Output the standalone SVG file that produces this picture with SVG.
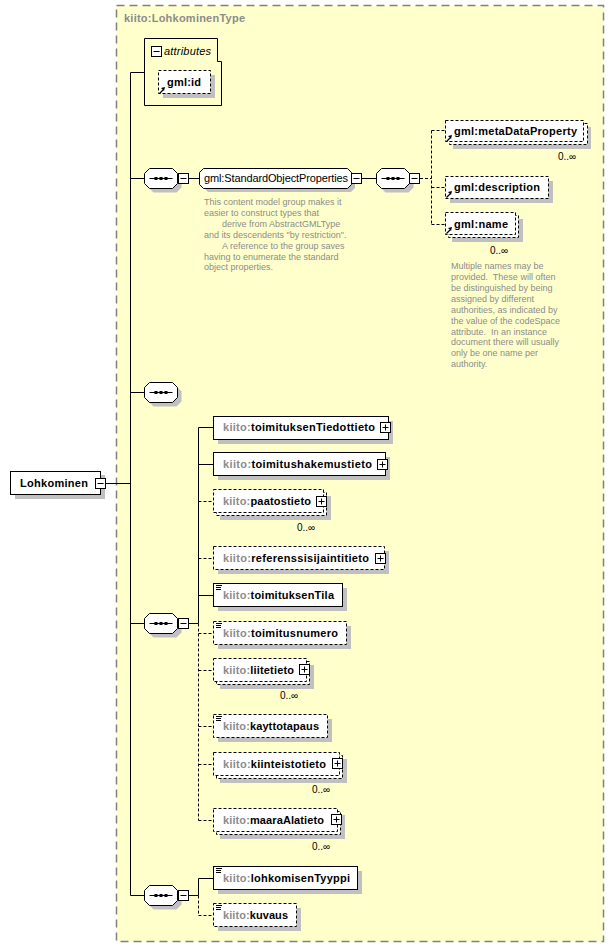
<svg xmlns="http://www.w3.org/2000/svg" xmlns:xlink="http://www.w3.org/1999/xlink" width="615" height="948" viewBox="0 0 615 948">
<style>
.bx{fill:#fff;stroke:#000;stroke-width:1}
.op{fill:#fff;stroke:#000;stroke-width:1;stroke-dasharray:3,2}
.sh{fill:#c0c0c0}
.ln{stroke:#000;stroke-width:1;fill:none}
.dl{stroke:#000;stroke-width:1;fill:none;stroke-dasharray:3,2}
.lb{font-family:"Liberation Sans",Arial,sans-serif;font-size:11px;font-weight:bold;fill:#000}
.ns{fill:#8c8c8c}
.rg{font-family:"Liberation Sans",Arial,sans-serif;font-size:11px;fill:#000}
.nt{font-family:"Liberation Sans",Arial,sans-serif;font-size:9px;fill:#8c8c8c;white-space:pre}
.oc{font-family:"Liberation Sans",Arial,sans-serif;font-size:10px;fill:#000}
</style>
<defs>
<g id="minus"><rect x="0.5" y="0.5" width="10" height="10" fill="#fff" stroke="#000"/><path d="M2.5,5.5h6" stroke="#000"/></g>
<g id="plus"><rect x="0.5" y="0.5" width="10" height="10" fill="#fff" stroke="#000"/><path d="M2.5,5.5h6M5.5,2.5v6" stroke="#000"/></g>
<g id="seq">
<polygon points="9,4 32,4 37,9 37,19 32,24 9,24 4,19 4,9" fill="#c0c0c0"/>
<polygon points="5,0 28,0 33,5 33,15 28,20 5,20 0,15 0,5" fill="#fff" stroke="#000"/>
<path d="M5,10H28" stroke="#000"/>
<rect x="10" y="8.5" width="3" height="3" fill="#000"/><rect x="15" y="8.5" width="3" height="3" fill="#000"/><rect x="20" y="8.5" width="3" height="3" fill="#000"/>
</g>
<g id="smp"><path d="M0,0.5h6M0,2.5h5M0,4.5h5" stroke="#000" stroke-width="1"/></g>
<g id="ref"><path d="M0.5,6.5L4,3" stroke="#000" stroke-width="1.2"/><polygon points="2,1 6,0 5,4" fill="#000"/></g>
</defs>

<g id="type">
<rect x="116.5" y="5.5" width="487" height="936" fill="#ffffcc" stroke="#808080" stroke-width="1.5" stroke-dasharray="8,5"/>
<text x="124" y="22" class="lb ns" textLength="121">kiito:LohkominenType</text>
</g>

<g id="connectors">
<path class="ln" d="M106,483.5H130.5M130.5,72.5V895.5M130.5,72.5H144.5M130.5,178.5H144.5M130.5,392.5H144.5M130.5,623.5H144.5M130.5,895.5H144.5"/>
<path class="ln" d="M188.5,178.5H199.5M362,178.5H376.5"/>
<path class="dl" d="M420,178.5H431.5M431.5,130.5V224.5M431.5,130.5H445.5M431.5,187.5H445.5M431.5,224.5H445.5"/>
<path class="ln" d="M188.5,623.5H198.5M198.5,427.5V623.5M198.5,427.5H213.5M198.5,464.5H213.5M198.5,595.5H213.5"/>
<path class="dl" d="M198.5,623.5V820.5M198.5,501.5H213.5M198.5,558.5H213.5M198.5,633.5H213.5M198.5,670.5H213.5M198.5,726.5H213.5M198.5,764.5H213.5M198.5,820.5H213.5"/>
<path class="ln" d="M188.5,895.5H198.5M198.5,878.5V895.5M198.5,878.5H213.5"/>
<path class="dl" d="M198.5,895.5V915.5M198.5,915.5H213.5"/>
</g>

<g id="root">
<rect class="sh" x="15" y="475" width="90" height="24"/>
<rect class="bx" x="10.5" y="471.5" width="90" height="23"/>
<text x="20" y="487" class="lb" textLength="68">Lohkominen</text>
<use xlink:href="#minus" x="95" y="478"/>
</g>

<g id="attributes">
<path d="M144.5,38.5H217.5V61.5H221.5V105.5H144.5Z" fill="none" stroke="#000"/>
<use xlink:href="#minus" x="151" y="46"/>
<text x="164" y="55" class="rg" font-style="italic" textLength="47">attributes</text>
</g>
<g id="gml-id">
<rect class="sh" x="163" y="75" width="52" height="23"/>
<rect class="op" x="158.5" y="70.5" width="52" height="23"/>
<text x="167" y="86" class="lb" textLength="34">gml:id</text>
<use xlink:href="#ref" x="159" y="87"/>
</g>

<g id="seq1">
<use xlink:href="#seq" x="144.5" y="168.5"/>
<use xlink:href="#minus" x="178" y="173"/>
</g>
<g id="group-StandardObjectProperties">
<polygon class="sh" points="208,172 351,172 355,176 355,188 351,192 208,192 204,188 204,176"/>
<polygon class="bx" points="203.5,168.5 347.5,168.5 351.5,172.5 351.5,184.5 347.5,188.5 203.5,188.5 199.5,184.5 199.5,172.5"/>
<text x="204" y="182" class="rg" textLength="144">gml:StandardObjectProperties</text>
<use xlink:href="#minus" x="351" y="173"/>
<text class="nt"><tspan x="204" y="205">This content model group makes it</tspan><tspan x="204" y="216">easier to construct types that</tspan><tspan x="222" y="227">derive from AbstractGMLType</tspan><tspan x="204" y="238">and its descendents "by restriction".</tspan><tspan x="222" y="249">A reference to the group saves</tspan><tspan x="204" y="259.5">having to enumerate the standard</tspan><tspan x="204" y="270">object properties.</tspan></text>
</g>
<g id="seq1b">
<use xlink:href="#seq" x="376.5" y="168.5"/>
<use xlink:href="#minus" x="409" y="173"/>
</g>
<g id="gml-metaDataProperty">
<rect class="sh" x="453" y="127" width="138" height="22"/>
<rect class="op" x="449.5" y="123.5" width="138" height="21"/>
<rect class="op" x="445.5" y="120.5" width="138" height="21"/>
<text x="454" y="135" class="lb" textLength="123">gml:metaDataProperty</text>
<use xlink:href="#ref" x="446" y="135"/>
<text x="558" y="160" class="oc">0..∞</text>
</g>
<g id="gml-description">
<rect class="sh" x="450" y="181" width="103" height="22"/>
<rect class="op" x="445.5" y="176.5" width="103" height="22"/>
<text x="454" y="191" class="lb" textLength="86">gml:description</text>
<use xlink:href="#ref" x="446" y="191"/>
</g>
<g id="gml-name">
<rect class="sh" x="452" y="219" width="71" height="23"/>
<rect class="op" x="448.5" y="215.5" width="70" height="22"/>
<rect class="op" x="445.5" y="212.5" width="70" height="22"/>
<text x="454" y="228" class="lb" textLength="54">gml:name</text>
<use xlink:href="#ref" x="446" y="227"/>
<text x="490" y="254" class="oc">0..∞</text>
<text class="nt"><tspan x="451" y="269">Multiple names may be</tspan><tspan x="451" y="280">provided.  These will often</tspan><tspan x="451" y="291">be distinguished by being</tspan><tspan x="451" y="302">assigned by different</tspan><tspan x="451" y="313">authorities, as indicated by</tspan><tspan x="451" y="323.5">the value of the codeSpace</tspan><tspan x="451" y="334.5">attribute.  In an instance</tspan><tspan x="451" y="345">document there will usually</tspan><tspan x="451" y="356">only be one name per</tspan><tspan x="451" y="367">authority.</tspan></text>
</g>

<g id="seq2">
<use xlink:href="#seq" x="144.5" y="382.5"/>
</g>

<g id="seq3">
<use xlink:href="#seq" x="144.5" y="613.5"/>
<use xlink:href="#minus" x="178" y="618"/>
</g>

<g id="toimituksenTiedottieto">
<rect class="sh" x="218" y="421" width="175" height="23"/>
<rect class="bx" x="213.5" y="416.5" width="175" height="23"/>
<text x="223" y="431" class="lb" textLength="152"><tspan class="ns">kiito:</tspan>toimituksenTiedottieto</text>
<use xlink:href="#plus" x="380" y="422"/>
</g>
<g id="toimitushakemustieto">
<rect class="sh" x="218" y="457" width="172" height="23"/>
<rect class="bx" x="213.5" y="452.5" width="172" height="23"/>
<text x="223" y="468" class="lb" textLength="149"><tspan class="ns">kiito:</tspan>toimitushakemustieto</text>
<use xlink:href="#plus" x="377" y="459"/>
</g>
<g id="paatostieto">
<rect class="sh" x="220" y="496" width="111" height="24"/>
<rect class="op" x="216.5" y="492.5" width="110" height="23"/>
<rect class="op" x="213.5" y="489.5" width="110" height="23"/>
<text x="223" y="505" class="lb" textLength="88"><tspan class="ns">kiito:</tspan>paatostieto</text>
<use xlink:href="#plus" x="316" y="496"/>
<text x="297" y="531" class="oc">0..∞</text>
</g>
<g id="referenssisijaintitieto">
<rect class="sh" x="218" y="551" width="171" height="23"/>
<rect class="op" x="213.5" y="546.5" width="171" height="23"/>
<text x="223" y="562" class="lb" textLength="146"><tspan class="ns">kiito:</tspan>referenssisijaintitieto</text>
<use xlink:href="#plus" x="375" y="553"/>
</g>
<g id="toimituksenTila">
<rect class="sh" x="218" y="588" width="129" height="23"/>
<rect class="bx" x="213.5" y="583.5" width="129" height="23"/>
<use xlink:href="#smp" x="216" y="585"/>
<text x="223" y="599" class="lb" textLength="111"><tspan class="ns">kiito:</tspan>toimituksenTila</text>
</g>
<g id="toimitusnumero">
<rect class="sh" x="218" y="626" width="133" height="23"/>
<rect class="op" x="213.5" y="621.5" width="133" height="23"/>
<use xlink:href="#smp" x="216" y="623"/>
<text x="223" y="637" class="lb" textLength="115"><tspan class="ns">kiito:</tspan>toimitusnumero</text>
</g>
<g id="liitetieto">
<rect class="sh" x="220" y="665" width="94" height="24"/>
<rect class="op" x="216.5" y="661.5" width="93" height="23"/>
<rect class="op" x="213.5" y="658.5" width="93" height="23"/>
<text x="223" y="674" class="lb" textLength="71"><tspan class="ns">kiito:</tspan>liitetieto</text>
<use xlink:href="#plus" x="299" y="664"/>
<text x="280" y="699" class="oc">0..∞</text>
</g>
<g id="kayttotapaus">
<rect class="sh" x="218" y="719" width="114" height="23"/>
<rect class="op" x="213.5" y="714.5" width="114" height="23"/>
<use xlink:href="#smp" x="216" y="716"/>
<text x="223" y="730" class="lb" textLength="96"><tspan class="ns">kiito:</tspan>kayttotapaus</text>
</g>
<g id="kiinteistotieto">
<rect class="sh" x="220" y="759" width="127" height="24"/>
<rect class="op" x="216.5" y="755.5" width="126" height="23"/>
<rect class="op" x="213.5" y="752.5" width="126" height="23"/>
<text x="223" y="768" class="lb" textLength="103"><tspan class="ns">kiito:</tspan>kiinteistotieto</text>
<use xlink:href="#plus" x="332" y="758"/>
<text x="312" y="793" class="oc">0..∞</text>
</g>
<g id="maaraAlatieto">
<rect class="sh" x="220" y="815" width="125" height="24"/>
<rect class="op" x="216.5" y="811.5" width="124" height="23"/>
<rect class="op" x="213.5" y="808.5" width="124" height="23"/>
<text x="223" y="824" class="lb" textLength="101"><tspan class="ns">kiito:</tspan>maaraAlatieto</text>
<use xlink:href="#plus" x="331" y="814"/>
<text x="312" y="850" class="oc">0..∞</text>
</g>

<g id="seq4">
<use xlink:href="#seq" x="144.5" y="885.5"/>
<use xlink:href="#minus" x="178" y="890"/>
</g>
<g id="lohkomisenTyyppi">
<rect class="sh" x="218" y="871" width="144" height="23"/>
<rect class="bx" x="213.5" y="866.5" width="144" height="23"/>
<use xlink:href="#smp" x="216" y="868"/>
<text x="223" y="882" class="lb" textLength="127"><tspan class="ns">kiito:</tspan>lohkomisenTyyppi</text>
</g>
<g id="kuvaus">
<rect class="sh" x="218" y="908" width="83" height="23"/>
<rect class="op" x="213.5" y="903.5" width="83" height="23"/>
<use xlink:href="#smp" x="216" y="905"/>
<text x="223" y="919" class="lb" textLength="65"><tspan class="ns">kiito:</tspan>kuvaus</text>
</g>
</svg>
